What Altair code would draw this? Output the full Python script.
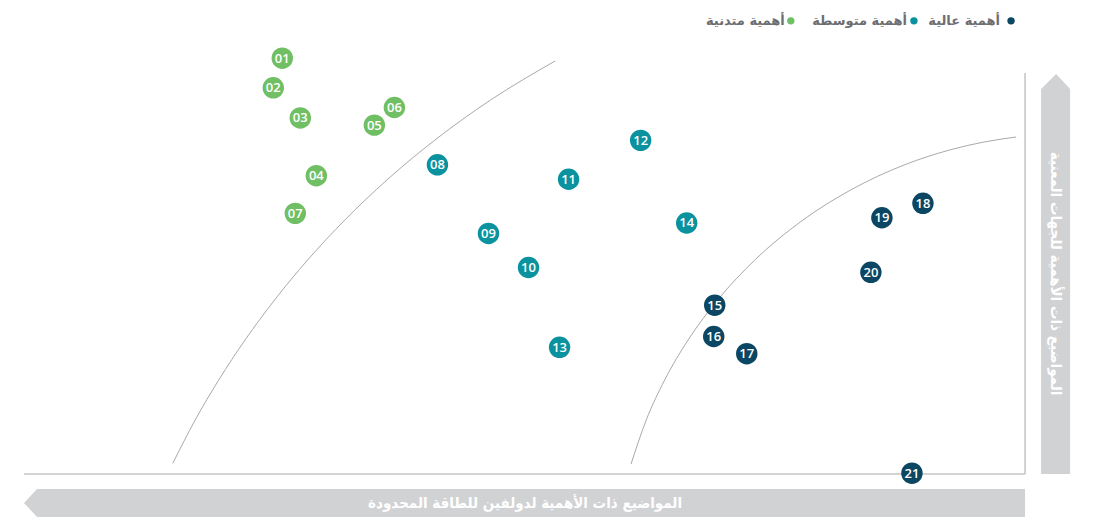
import altair as alt
import pandas as pd

# ---------------- data ----------------
ids = ["01", "02", "03", "04", "05", "06", "07",
       "08", "09", "10", "11", "12", "13", "14",
       "15", "16", "17", "18", "19", "20", "21"]
x_vals = [25.8, 24.9, 27.6, 29.2, 35.0, 37.0, 27.1,
          41.3, 46.4, 50.4, 54.4, 61.6, 53.5, 66.2,
          69.0, 68.9, 72.2, 89.8, 85.7, 84.6, 88.7]
y_vals = [103.7, 96.3, 88.8, 74.4, 87.0, 91.4, 65.0,
          77.1, 60.0, 51.5, 73.5, 83.2, 31.6, 62.6,
          42.1, 34.3, 30.0, 67.5, 63.9, 50.3, 0.2]
level_names = ["أهمية عالية", "أهمية متوسطة", "أهمية متدنية"]
level_colors = ["#0b4763", "#0a929f", "#70bf65"]
levels = [level_names[2]] * 7 + [level_names[1]] * 7 + [level_names[0]] * 7

# guide curves
curve1_x = [14.86, 17.10, 19.45, 22.08, 25.03, 28.33, 32.05, 36.25, 41.05, 46.61, 53.05]
curve1_y = [2.67, 13.47, 23.44, 33.42, 43.39, 53.37, 63.34, 73.32, 83.29, 93.27, 102.99]
curve2_x = [60.64, 62.16, 64.00, 66.34, 69.29, 73.01, 77.82, 82.57, 87.92, 92.46, 95.89, 99.11]
curve2_y = [2.49, 13.47, 23.44, 33.42, 43.39, 53.37, 63.34, 70.82, 77.06, 80.80, 82.79, 84.04]

x_title = "المواضيع ذات الأهمية لدولفين للطاقة المحدودة"
y_title = "المواضيع ذات الأهمية للجهات المعنية"

# legend positions (right-to-left)
legend_dot_x = [98.6, 88.9, 76.6]
legend_text_x = [97.5, 88.2, 76.0]
legend_y = 113.0

XD = [-1.6, 105.29]
YD = [-10.72, 116.21]
W, H = 1070, 509

xs = alt.Scale(domain=XD, nice=False, zero=False)
ys = alt.Scale(domain=YD, nice=False, zero=False)
X = lambda f="x": alt.X(f"{f}:Q", scale=xs, axis=None)
Y = lambda f="y": alt.Y(f"{f}:Q", scale=ys, axis=None)

pts = pd.DataFrame({"id": ids, "x": x_vals, "y": y_vals, "level": levels})
c1 = pd.DataFrame({"x": curve1_x, "y": curve1_y})
c2 = pd.DataFrame({"x": curve2_x, "y": curve2_y})
leg = pd.DataFrame({"name": level_names, "dx": legend_dot_x, "tx": legend_text_x,
                    "y": [legend_y] * 3})

color = alt.Color("level:N", scale=alt.Scale(domain=level_names, range=level_colors),
                  legend=None)

# axis frame lines
hline = alt.Chart(pd.DataFrame({"x": [0], "x2": [100], "y": [0]})).mark_rule(
    color="#c4c4c4", strokeWidth=1.5).encode(x=X(), x2="x2:Q", y=Y())
vline = alt.Chart(pd.DataFrame({"x": [100], "y": [0], "y2": [100]})).mark_rule(
    color="#c4c4c4", strokeWidth=1.5).encode(x=X(), y=Y(), y2="y2:Q")

# arrow bands
band_b = alt.Chart(pd.DataFrame({"x": [0, 1.3, 100], "y": [-7.23, -3.74, -3.74],
                                 "y2": [-7.23, -10.72, -10.72]})).mark_area(
    color="#d1d2d4", orient="vertical").encode(x=X(), y=Y(), y2="y2:Q")
band_r = alt.Chart(pd.DataFrame({"y": [0, 96.0, 99.75], "x": [101.6, 101.6, 103.1],
                                 "x2": [104.5, 104.5, 103.1]})).mark_area(
    color="#d1d2d4", orient="horizontal").encode(y=Y(), x=X(), x2="x2:Q")

t_b = alt.Chart(pd.DataFrame({"x": [50.05], "y": [-7.3], "t": [x_title]})).mark_text(
    color="white", fontSize=15, fontWeight="bold", font="DejaVu Sans Condensed",
    baseline="middle", align="center").encode(x=X(), y=Y(), text="t:N")
t_r = alt.Chart(pd.DataFrame({"x": [103.05], "y": [50.0], "t": [y_title]})).mark_text(
    color="white", fontSize=15, fontWeight="bold", font="DejaVu Sans Condensed",
    baseline="middle", align="center", angle=90).encode(x=X(), y=Y(), text="t:N")

curve_a = alt.Chart(c1).mark_line(color="#a9a9a9", strokeWidth=1,
                                  interpolate="monotone").encode(x=X(), y=Y())
curve_b = alt.Chart(c2).mark_line(color="#a9a9a9", strokeWidth=1,
                                  interpolate="monotone").encode(x=X(), y=Y())

dots = alt.Chart(pts).mark_circle(size=460, opacity=1).encode(x=X(), y=Y(), color=color)
labels = alt.Chart(pts).mark_text(color="white", fontSize=13, fontWeight=600,
                                  font="Open Sans", baseline="middle",
                                  dy=0.5).encode(x=X(), y=Y(), text="id:N")

leg_dots = alt.Chart(leg).mark_circle(size=55, opacity=1).encode(
    x=X("dx"), y=Y(), color=alt.Color("name:N", scale=alt.Scale(domain=level_names,
                                      range=level_colors), legend=None))
leg_text = alt.Chart(leg).mark_text(color="#6d6e71", fontSize=13, fontWeight="bold",
                                    font="DejaVu Sans", align="right",
                                    baseline="middle").encode(x=X("tx"), y=Y(), text="name:N")

chart = alt.layer(band_b, band_r, hline, vline, curve_a, curve_b, t_b, t_r,
                  dots, labels, leg_dots, leg_text).properties(
    width=W, height=H, padding=0, autosize=alt.AutoSizeParams(type="none")
).configure_view(stroke=None)

chart.save("out.html", embed_options={"renderer": "svg", "actions": False})
